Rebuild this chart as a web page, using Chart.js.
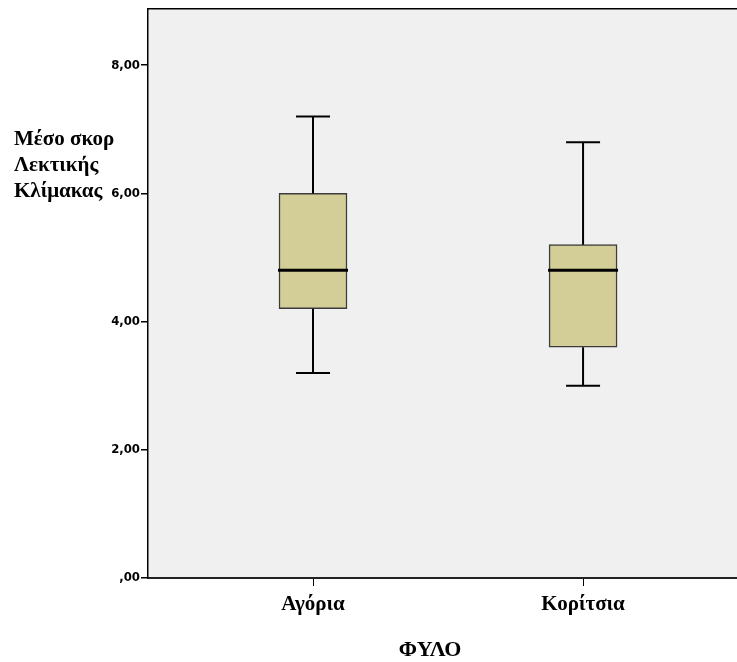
<!DOCTYPE html>
<html>
<head>
<meta charset="utf-8">
<script src="https://cdn.jsdelivr.net/npm/chart.js@4/dist/chart.umd.min.js"></script>
<style>
  html, body { margin: 0; padding: 0; background: #fff; overflow: hidden; }
  #wrap { position: relative; width: 737px; height: 662px; }
  canvas { position: absolute; left: 0; top: 0; }
  .lbl { position: absolute; font-family: "Liberation Serif", "Times New Roman", serif; font-weight: bold; color: #000; white-space: nowrap; }
  #ytitle { left: 14px; top: 125px; font-size: 21px; line-height: 26px; }
  #xtitle { left: 0; width: 860px; text-align: center; top: 636px; font-size: 22px; line-height: 26px; }
</style>
</head>
<body>
<div id="wrap">
  <canvas id="c" width="737" height="662"></canvas>
  <div class="lbl" id="ytitle">Μέσο σκορ<br>Λεκτικής<br>Κλίμακας</div>
  <div class="lbl" id="xtitle">ΦΥΛΟ</div>
</div>
<script>
const categories = ["Αγόρια", "Κορίτσια"];
const whiskerLow = [3.2, 3.0];
const q1 = [4.2, 3.6];
const medians = [4.8, 4.8];
const q3 = [6.0, 5.2];
const whiskerHigh = [7.2, 6.8];
const yTickValues = [0, 2, 4, 6, 8];

function fmt(v) {
  const s = v.toFixed(2).replace('.', ',');
  return s.startsWith('0,') ? s.slice(1) : s;
}

const bgPlugin = {
  id: 'bg',
  beforeDraw(chart) {
    const { ctx, chartArea: a } = chart;
    ctx.save();
    ctx.fillStyle = '#f0f0f0';
    ctx.fillRect(a.left, a.top, a.right - a.left, a.bottom - a.top);
    ctx.strokeStyle = '#000';
    ctx.lineWidth = 1.5;
    ctx.beginPath();
    ctx.moveTo(a.left, a.top);
    ctx.lineTo(a.right, a.top);
    ctx.stroke();
    ctx.restore();
  }
};

const boxPlugin = {
  id: 'boxparts',
  afterDatasetsDraw(chart) {
    const { ctx } = chart;
    const xs = chart.scales.x, ys = chart.scales.y;
    ctx.save();
    ctx.strokeStyle = '#000';
    categories.forEach((c, i) => {
      const xc = xs.getPixelForValue(i + 1);
      const yHi = ys.getPixelForValue(whiskerHigh[i]);
      const yQ3 = ys.getPixelForValue(q3[i]);
      const yQ1 = ys.getPixelForValue(q1[i]);
      const yLo = ys.getPixelForValue(whiskerLow[i]);
      const yMed = ys.getPixelForValue(medians[i]);
      ctx.lineWidth = 2;
      ctx.beginPath();
      ctx.moveTo(xc, yHi); ctx.lineTo(xc, yQ3);
      ctx.moveTo(xc, yQ1); ctx.lineTo(xc, yLo);
      ctx.moveTo(xc - 17, yHi); ctx.lineTo(xc + 17, yHi);
      ctx.moveTo(xc - 17, yLo); ctx.lineTo(xc + 17, yLo);
      ctx.stroke();
      ctx.lineWidth = 3;
      ctx.beginPath();
      ctx.moveTo(xc - 35, yMed); ctx.lineTo(xc + 35, yMed);
      ctx.stroke();
    });
    ctx.restore();
  }
};

const tickFontY = { family: '"Liberation Sans Narrow", "Arial Narrow", "DejaVu Sans Condensed", sans-serif', size: 13, weight: 'bold' };
const tickFontX = { family: '"Liberation Serif", "Times New Roman", serif', size: 21, weight: 'bold' };

new Chart(document.getElementById('c'), {
  type: 'bar',
  data: {
    datasets: [{
      data: categories.map((c, i) => ({ x: i + 1, y: [q1[i], q3[i]] })),
      backgroundColor: '#d3ce98',
      borderColor: '#3c3c3c',
      borderWidth: 1.5,
      borderSkipped: false,
      barThickness: 68
    }]
  },
  plugins: [bgPlugin, boxPlugin],
  options: {
    responsive: false,
    animation: false,
    layout: { padding: { left: 0, top: 7, right: 0, bottom: 0 } },
    plugins: { legend: { display: false }, tooltip: { enabled: false } },
    scales: {
      x: {
        type: 'linear',
        offset: false,
        min: 0.389,
        max: 2.57,
        afterFit(s) { s.height = 84; },
        afterBuildTicks(s) { s.ticks = categories.map((c, i) => ({ value: i + 1 })); },
        ticks: {
          color: '#000',
          font: tickFontX,
          padding: 6,
          maxRotation: 0,
          autoSkip: false,
          callback: (v) => categories[v - 1]
        },
        grid: { offset: false, drawOnChartArea: false, drawTicks: true, tickLength: 8, color: '#000', lineWidth: 1 },
        border: { display: true, color: '#222', width: 2 }
      },
      y: {
        min: 0,
        max: 8.88,
        afterFit(s) { s.width = 148; },
        afterBuildTicks(s) { s.ticks = yTickValues.map(v => ({ value: v })); },
        ticks: {
          color: '#000',
          font: tickFontY,
          padding: 1,
          callback: (v) => fmt(v)
        },
        grid: { drawOnChartArea: false, drawTicks: true, tickLength: 7, color: '#000', lineWidth: 1.5 },
        border: { display: true, color: '#000', width: 1.5 }
      }
    }
  }
});
</script>
</body>
</html>
